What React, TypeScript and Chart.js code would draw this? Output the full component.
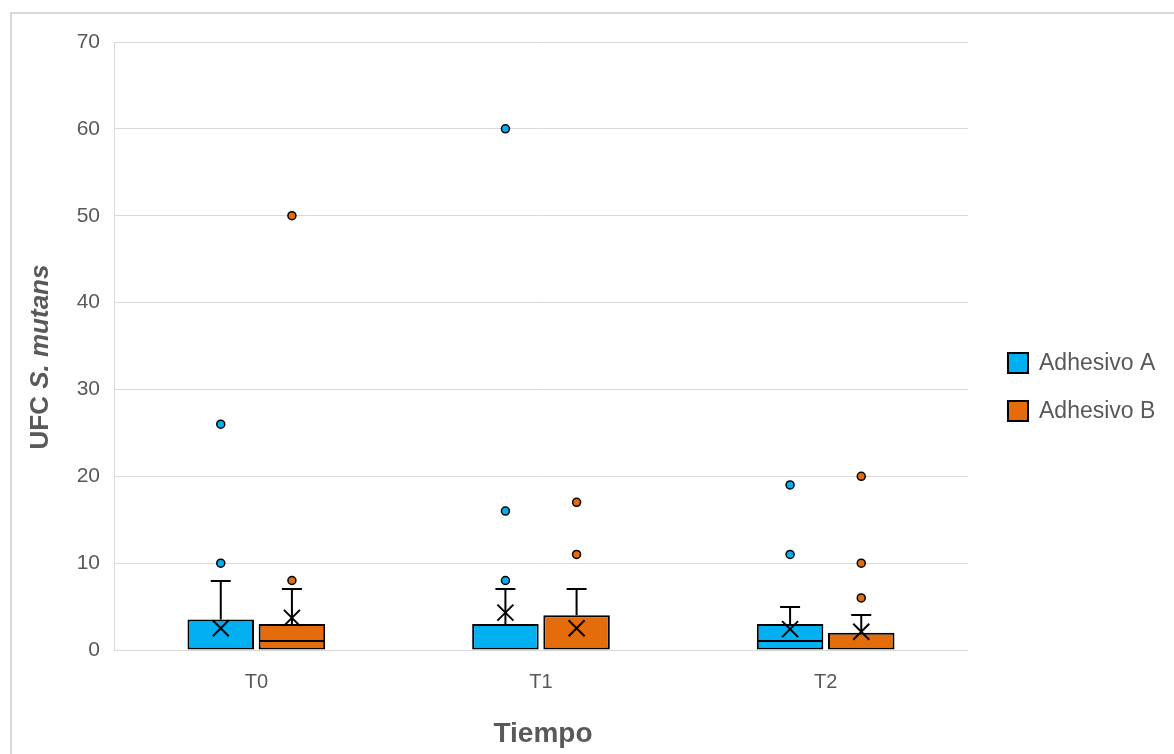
import { useEffect, useRef } from 'react';
import { Chart, registerables } from 'chart.js';

Chart.register(...registerables);

// ---- data ----
const categories = ['T0', 'T1', 'T2'];
const seriesNames = ['Adhesivo A', 'Adhesivo B'];
const seriesColors = ['#00B0F0', '#E46C0A'];

const q1A = [0, 0, 0];
const medianA = [0, 0, 1];
const q3A = [3.5, 3, 3];
const whiskerLowA = [0, 0, 0];
const whiskerHighA = [8, 7, 5];
const meanA = [2.5, 4.3, 2.4];
const outliersA = [[10, 26], [8, 16, 60], [11, 19]];

const q1B = [0, 0, 0];
const medianB = [1, 0, 0];
const q3B = [3, 4, 2];
const whiskerLowB = [0, 0, 0];
const whiskerHighB = [7, 7, 4];
const meanB = [3.7, 2.5, 2.1];
const outliersB = [[8, 50], [11, 17], [6, 10, 20]];

const yMin = 0;
const yMax = 70;
const yStep = 10;

const yTitleNormal = 'UFC ';
const yTitleItalic = 'S. mutans';
const xTitle = 'Tiempo';

const stats = [
  { q1: q1A, median: medianA, q3: q3A, low: whiskerLowA, high: whiskerHighA, mean: meanA, outliers: outliersA },
  { q1: q1B, median: medianB, q3: q3B, low: whiskerLowB, high: whiskerHighB, mean: meanB, outliers: outliersB },
];

const FONT = "'Liberation Sans', Arial, sans-serif";
const TEXT = '#595959';

const boxPlugin = {
  id: 'boxExtras',
  beforeDraw(chart: any) {
    const ctx = chart.ctx;
    ctx.save();
    ctx.strokeStyle = '#D9D9D9';
    ctx.lineWidth = 2;
    ctx.strokeRect(11, 13, 1300, 900);
    ctx.restore();
  },
  afterDatasetsDraw(chart: any) {
    const ctx = chart.ctx;
    const ys = chart.scales.y;
    ctx.save();
    stats.forEach((s, di) => {
      const meta = chart.getDatasetMeta(di);
      meta.data.forEach((bar: any, j: number) => {
        const x = bar.x;
        const w = bar.width;
        ctx.strokeStyle = '#000';
        ctx.lineWidth = 2;
        // median
        if (s.median[j] > s.q1[j] && s.median[j] < s.q3[j]) {
          const my = Math.round(ys.getPixelForValue(s.median[j]));
          ctx.beginPath();
          ctx.moveTo(x - w / 2 + 1, my);
          ctx.lineTo(x + w / 2 - 1, my);
          ctx.stroke();
        }
        // upper whisker
        if (s.high[j] > s.q3[j]) {
          const y1 = ys.getPixelForValue(s.q3[j]);
          const y2 = Math.round(ys.getPixelForValue(s.high[j]));
          ctx.beginPath();
          ctx.moveTo(x, y1);
          ctx.lineTo(x, y2);
          ctx.moveTo(x - 10, y2);
          ctx.lineTo(x + 10, y2);
          ctx.stroke();
        }
        // lower whisker
        if (s.low[j] < s.q1[j]) {
          const y1 = ys.getPixelForValue(s.q1[j]);
          const y2 = Math.round(ys.getPixelForValue(s.low[j]));
          ctx.beginPath();
          ctx.moveTo(x, y1);
          ctx.lineTo(x, y2);
          ctx.moveTo(x - 10, y2);
          ctx.lineTo(x + 10, y2);
          ctx.stroke();
        }
        // mean X
        const mY = ys.getPixelForValue(s.mean[j]);
        const h = 8;
        ctx.beginPath();
        ctx.moveTo(x - h, mY - h);
        ctx.lineTo(x + h, mY + h);
        ctx.moveTo(x + h, mY - h);
        ctx.lineTo(x - h, mY + h);
        ctx.stroke();
        // outliers
        s.outliers[j].forEach((v: number) => {
          const oy = ys.getPixelForValue(v);
          ctx.beginPath();
          ctx.arc(x, oy, 4, 0, Math.PI * 2);
          ctx.fillStyle = seriesColors[di];
          ctx.fill();
          ctx.lineWidth = 1.5;
          ctx.stroke();
        });
      });
    });
    ctx.restore();
  },
  afterDraw(chart: any) {
    const ctx = chart.ctx;
    const area = chart.chartArea;
    ctx.save();
    ctx.fillStyle = TEXT;
    // y title (mixed styles)
    const fs = 26;
    const fN = `bold ${fs}px ${FONT}`;
    const fI = `italic bold ${fs}px ${FONT}`;
    ctx.font = fN;
    const wN = ctx.measureText(yTitleNormal).width;
    ctx.font = fI;
    const wI = ctx.measureText(yTitleItalic).width;
    const total = wN + wI;
    ctx.translate(48, 357);
    ctx.rotate(-Math.PI / 2);
    ctx.textBaseline = 'alphabetic';
    ctx.textAlign = 'left';
    ctx.font = fN;
    ctx.fillText(yTitleNormal, -total / 2, 0);
    ctx.font = fI;
    ctx.fillText(yTitleItalic, -total / 2 + wN, 0);
    ctx.setTransform(1, 0, 0, 1, 0, 0);
    // x title
    ctx.font = `bold 28px ${FONT}`;
    ctx.textAlign = 'center';
    ctx.textBaseline = 'alphabetic';
    ctx.fillText(xTitle, (area.left + area.right) / 2 + 2, 742);
    // legend
    ctx.textAlign = 'left';
    ctx.textBaseline = 'middle';
    ctx.font = `23px ${FONT}`;
    seriesNames.forEach((name, i) => {
      const cy = 363 + i * 48;
      ctx.fillStyle = seriesColors[i];
      ctx.fillRect(1008, cy - 10, 20, 20);
      ctx.strokeStyle = '#000';
      ctx.lineWidth = 2;
      ctx.strokeRect(1008, cy - 10, 20, 20);
      ctx.fillStyle = TEXT;
      ctx.fillText(name, 1039, cy + 1);
    });
    ctx.restore();
  },
};

export default function App() {
  const ref = useRef<HTMLCanvasElement | null>(null);
  useEffect(() => {
    document.body.style.margin = '0';
    const canvas = ref.current!;
    const chart = new Chart(canvas, {
      type: 'bar',
      data: {
        labels: categories,
        datasets: stats.map((s, i) => ({
          label: seriesNames[i],
          data: s.q1.map((v, j) => [v, s.q3[j]]),
          backgroundColor: seriesColors[i],
          borderColor: '#000',
          borderWidth: 2,
          borderSkipped: false,
          categoryPercentage: 0.5,
          barPercentage: 0.935,
        })),
      },
      options: {
        animation: false,
        responsive: false,
        devicePixelRatio: 1,
        layout: { padding: { top: 42, right: 206, bottom: 0, left: 0 } },
        plugins: {
          legend: { display: false },
          tooltip: { enabled: false },
          title: { display: false },
        },
        scales: {
          x: {
            grid: { display: false, drawTicks: false },
            border: { display: false },
            ticks: { color: TEXT, font: { family: FONT, size: 20 }, padding: 20 },
            afterFit: (scale: any) => { scale.height = 104; },
          },
          y: {
            min: yMin,
            max: yMax,
            ticks: { stepSize: yStep, color: TEXT, font: { family: FONT, size: 21 }, padding: 14 },
            grid: { color: '#D9D9D9', lineWidth: 1, drawTicks: false },
            border: { display: true, color: '#D9D9D9', width: 1 },
            afterFit: (scale: any) => { scale.width = 114; },
          },
        },
      },
      plugins: [boxPlugin],
    } as any);
    return () => chart.destroy();
  }, []);
  return (
    <div style={{ width: 1174, height: 754, overflow: 'hidden', background: '#fff' }}>
      <canvas ref={ref} width={1174} height={754} style={{ display: 'block' }} />
    </div>
  );
}
